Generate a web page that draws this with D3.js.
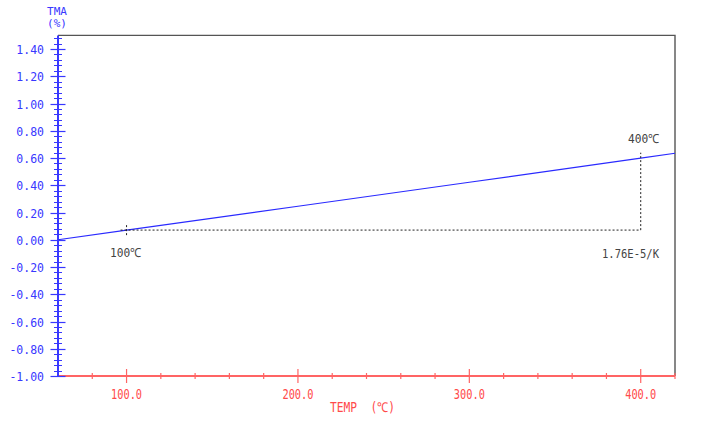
<!DOCTYPE html>
<html><head><meta charset="utf-8">
<script src="https://cdn.jsdelivr.net/npm/d3@7"></script>
<style>body{margin:0;background:#fff}svg{display:block}</style>
</head><body>
<svg id="c" width="711" height="423"></svg>
<script>
// Data
const temps = [60, 100, 200, 300, 400, 420];
const tma   = [0.000, 0.071, 0.246, 0.422, 0.599, 0.635];
const xMajorTicks = [100, 200, 300, 400];
const xTickLabels = ["100.0", "200.0", "300.0", "400.0"];
const yMajorTicks = [1.4, 1.2, 1.0, 0.8, 0.6, 0.4, 0.2, 0.0, -0.2, -0.4, -0.6, -0.8, -1.0];
const yTickLabels = ["1.40","1.20","1.00","0.80","0.60","0.40","0.20","0.00","-0.20","-0.40","-0.60","-0.80","-1.00"];
const t1 = 100, t2 = 400, v1 = 0.071, v2 = 0.599;
const coefText = "1.76E-5/K";

const svg = d3.select("#c");
const x = d3.scaleLinear().domain([60, 420]).range([58, 675]);
const y = d3.scaleLinear().domain([-1.0, 1.5]).range([376, 35.4]);

const blue = "#3838ff", red = "#ff6464", redText = "#ff4a4a", gray = "#444";
const mono = "'DejaVu Sans Mono', 'Liberation Mono', monospace";

// frame
svg.append("path").attr("d", `M${x(60)},${y(1.5)}H${x(420)}V${y(-1)}`)
  .attr("fill","none").attr("stroke","#555").attr("stroke-width",1.4);

// x axis
svg.append("line").attr("x1",x(60)).attr("x2",x(420)).attr("y1",y(-1)).attr("y2",y(-1))
  .attr("stroke",red).attr("stroke-width",2);
const xMinor = d3.range(80, 421, 20).filter(v => v % 100 !== 0);
svg.selectAll(".xm").data(xMinor).join("line")
  .attr("x1",d=>x(d)).attr("x2",d=>x(d)).attr("y1",y(-1)-3).attr("y2",y(-1)+3)
  .attr("stroke",red).attr("stroke-width",1.2);
svg.selectAll(".xM").data(xMajorTicks).join("line")
  .attr("x1",d=>x(d)).attr("x2",d=>x(d)).attr("y1",y(-1)-7).attr("y2",y(-1)+7)
  .attr("stroke",red).attr("stroke-width",1.2);
svg.selectAll(".xl").data(xMajorTicks).join("text")
  .attr("x",d=>x(d)).attr("y",399).attr("text-anchor","middle")
  .attr("font-family",mono).attr("font-size",13.5).attr("fill",redText)
  .attr("textLength",31).attr("lengthAdjust","spacingAndGlyphs")
  .text((d,i)=>xTickLabels[i]);
svg.append("text").attr("x",330).attr("y",412).attr("font-family",mono)
  .attr("font-size",13.5).attr("fill",redText).attr("textLength",65)
  .attr("lengthAdjust","spacingAndGlyphs").attr("xml:space","preserve").text("TEMP  (℃)");

// y axis
svg.append("line").attr("x1",x(60)).attr("x2",x(60)).attr("y1",y(1.5)).attr("y2",y(-1))
  .attr("stroke",blue).attr("stroke-width",2);
const yMinor = d3.range(-1.0, 1.5001, 0.04).map(v=>Math.round(v*1000)/1000)
  .filter(v => Math.abs(Math.round(v*1000)) % 200 !== 0);
svg.selectAll(".ym").data(yMinor).join("line")
  .attr("x1",x(60)-4).attr("x2",x(60)+4)
  .attr("y1",d=>Math.round(y(d))+0.5).attr("y2",d=>Math.round(y(d))+0.5)
  .attr("stroke",blue).attr("stroke-width",1);
svg.selectAll(".yM").data(yMajorTicks).join("line")
  .attr("x1",x(60)-7.5).attr("x2",x(60)+7.5)
  .attr("y1",d=>Math.round(y(d))+0.5).attr("y2",d=>Math.round(y(d))+0.5)
  .attr("stroke",blue).attr("stroke-width",1.2);
svg.selectAll(".yl").data(yMajorTicks).join("text")
  .attr("x",44).attr("y",d=>y(d)+5).attr("text-anchor","end")
  .attr("font-family",mono).attr("font-size",11.5).attr("fill",blue)
  .text((d,i)=>yTickLabels[i]);
svg.append("text").attr("x",57).attr("y",15).attr("text-anchor","middle")
  .attr("font-family",mono).attr("font-size",11).attr("fill",blue).text("TMA");
svg.append("text").attr("x",57).attr("y",27).attr("text-anchor","middle")
  .attr("font-family",mono).attr("font-size",11).attr("fill",blue).text("(%)");

// data line
const line = d3.line().x((d,i)=>x(temps[i])).y(d=>y(d));
svg.append("path").attr("d", line(tma)).attr("fill","none")
  .attr("stroke","#2a2aff").attr("stroke-width",1.2);

// annotation dotted lines
const dash = "2,2";
svg.append("line").attr("x1",x(t1-3.5)).attr("x2",x(t2)).attr("y1",y(v1)).attr("y2",y(v1))
  .attr("stroke","#222").attr("stroke-width",1).attr("stroke-dasharray",dash);
svg.append("line").attr("x1",x(t2)).attr("x2",x(t2)).attr("y1",y(v1)).attr("y2",y(v2+0.04))
  .attr("stroke","#222").attr("stroke-width",1).attr("stroke-dasharray",dash);
svg.append("line").attr("x1",x(t1)).attr("x2",x(t1)).attr("y1",y(v1-0.037)).attr("y2",y(v1+0.037))
  .attr("stroke","#222").attr("stroke-width",1).attr("stroke-dasharray",dash);

const annot = (tx, ty, s, anchor, len) => svg.append("text").attr("x",tx).attr("y",ty)
  .attr("text-anchor",anchor).attr("font-family",mono).attr("font-size",12.5)
  .attr("fill",gray).attr("textLength",len).attr("lengthAdjust","spacingAndGlyphs").text(s);
annot(110, 257, t1 + "℃", "start", 31);
annot(628, 143, t2 + "℃", "start", 31);
annot(602, 258, coefText, "start", 57);
</script>
</body></html>
